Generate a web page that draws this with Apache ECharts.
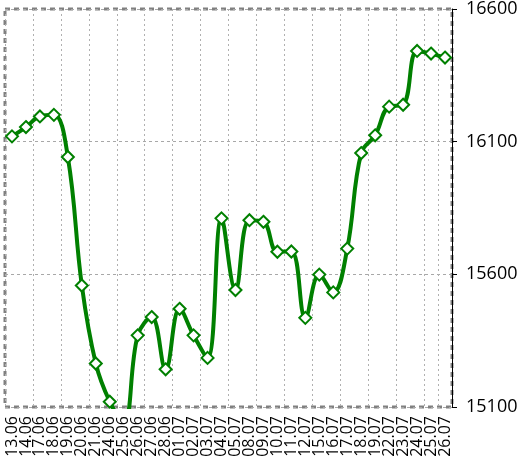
<!DOCTYPE html>
<html>
<head>
<meta charset="utf-8">
<script src="https://cdn.jsdelivr.net/npm/echarts@6/dist/echarts.min.js"></script>
<style>html,body{margin:0;padding:0;background:#fff}#c{width:527px;height:462px}</style>
</head>
<body>
<div id="c"></div>
<script>
const categories = ["13.06","14.06","17.06","18.06","19.06","20.06","21.06","24.06","25.06","26.06","27.06","28.06","01.07","02.07","03.07","04.07","05.07","08.07","09.07","10.07","11.07","12.07","15.07","16.07","17.07","18.07","19.07","22.07","23.07","24.07","25.07","26.07"];
const values = [16120,16155,16195,16201,16042,15558,15264,15120,15040,15370,15439,15242,15470,15370,15285,15811,15541,15804,15798,15685,15686,15436,15599,15532,15697,16057,16124,16232,16239,16442,16432,16417];
const yTicks = [15100, 15600, 16100, 16600];

const chart = echarts.init(document.getElementById('c'), null, {renderer: 'canvas'});
chart.setOption({
  animation: false,
  backgroundColor: '#ffffff',
  grid: {
    left: 5, top: 7, width: 447, height: 400,
    show: true,
    borderColor: '#808080', borderWidth: 3, borderType: [5, 4],
    backgroundColor: 'transparent'
  },
  xAxis: {
    type: 'category',
    data: categories,
    boundaryGap: true,
    axisLine: {show: false},
    axisTick: {show: false},
    axisLabel: {interval: 0, rotate: 90, fontSize: 16, color: '#000', margin: 9, fontFamily: 'Open Sans'},
    splitLine: {show: true, interval: 1, lineStyle: {color: '#b0b0b0', width: 1, type: [2, 3]}}
  },
  yAxis: {
    type: 'value',
    position: 'right',
    min: yTicks[0], max: yTicks[yTicks.length - 1], interval: 500,
    axisLine: {show: true, lineStyle: {color: '#000', width: 1}},
    axisTick: {show: true, inside: false, length: 5, lineStyle: {color: '#000'}},
    axisLabel: {fontSize: 18, color: '#000', margin: 14, fontFamily: 'Open Sans', padding: [6, 0, 0, 0],
      formatter: function (v) { return String(v); }},
    splitLine: {show: true, lineStyle: {color: '#a8a8a8', width: 1, type: [3, 3]}}
  },
  series: [{
    type: 'line',
    data: values,
    smooth: 0.4,
    clip: true,
    symbol: 'diamond',
    symbolSize: 12,
    showAllSymbol: true,
    lineStyle: {color: '#008000', width: 4},
    itemStyle: {color: '#ffffff', borderColor: '#008000', borderWidth: 2}
  }]
});
</script>
</body>
</html>
